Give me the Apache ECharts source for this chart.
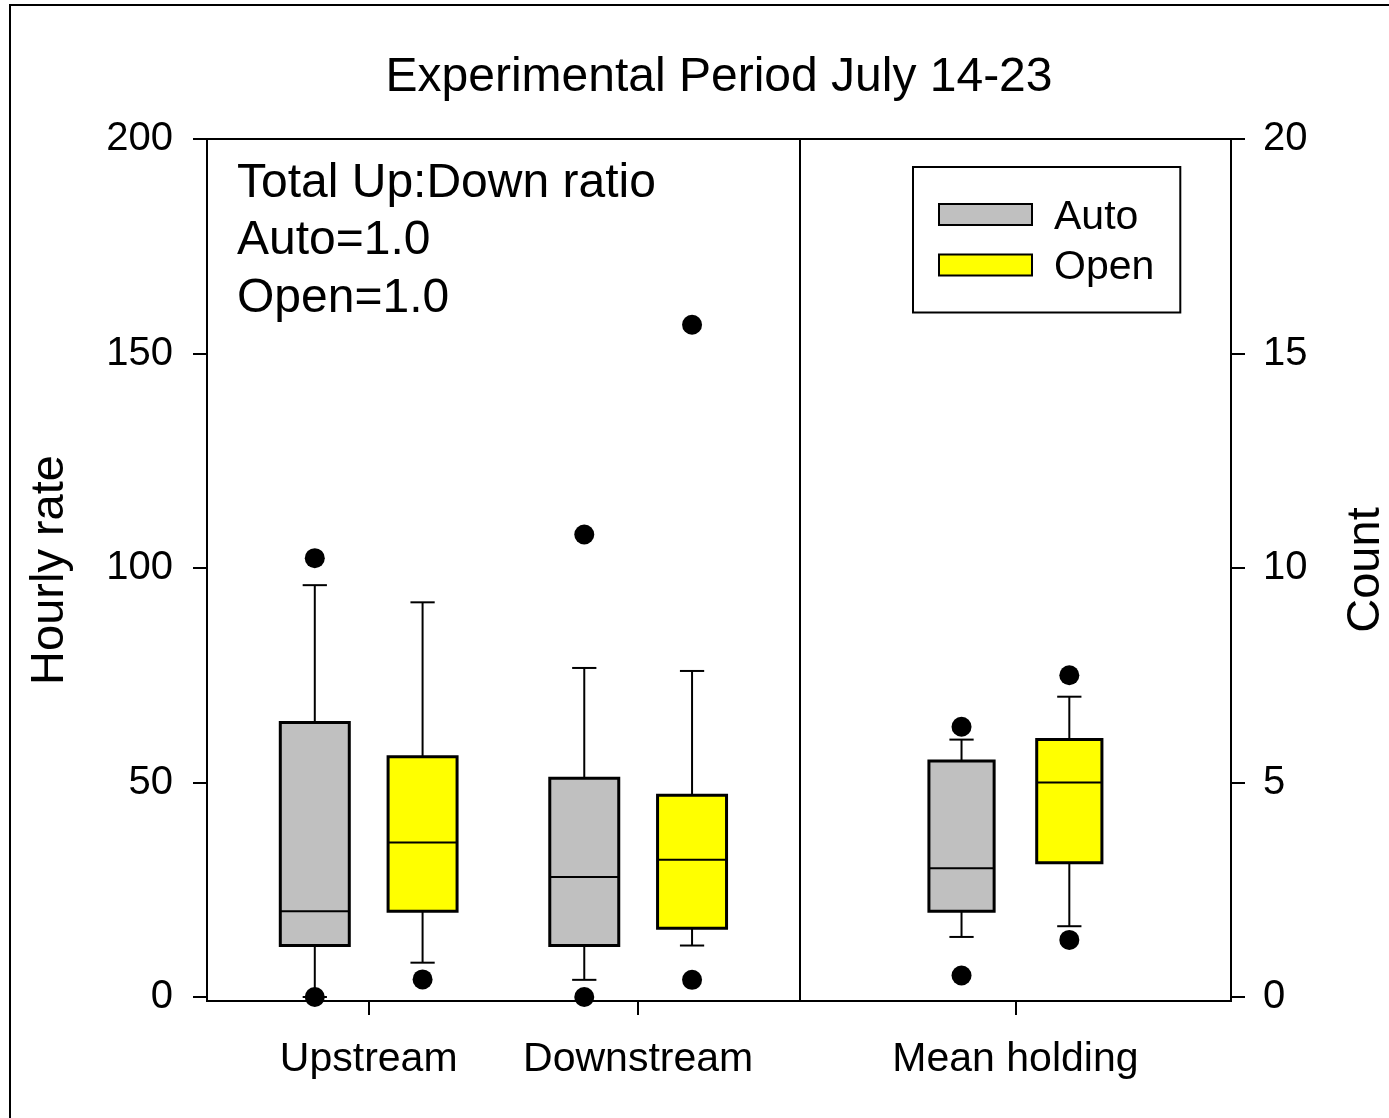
<!DOCTYPE html>
<html><head><meta charset="utf-8">
<script src="https://cdn.jsdelivr.net/npm/echarts@6/dist/echarts.min.js"></script>
<style>html,body{margin:0;padding:0;background:#fff;overflow:hidden}#c{width:1389px;height:1118px}</style>
</head><body><div id="c"></div>
<script>
// ---------- data ----------
const categories = ['Upstream', 'Downstream', 'Mean holding'];
const rateTicks = [0, 50, 100, 150, 200];
const countTicks = [0, 5, 10, 15, 20];
// box stats: [lower whisker, Q1, median, Q3, upper whisker]
const autoRate = [[0, 12, 20, 64, 96], [4, 12, 28, 51, 76.7]];
const openRate = [[8, 20, 36, 56, 92], [12, 16, 32, 47, 76]];
const autoCount = [[1.4, 2, 3, 5.5, 6]];
const openCount = [[1.65, 3.13, 5, 6, 7]];
// outliers: [category index, value]
const autoRateOut = [[0, 102.3], [0, 0], [1, 107.8], [1, 0]];
const openRateOut = [[0, 4.1], [1, 4.0], [1, 156.7]];
const autoCountOut = [[2, 6.3], [2, 0.5]];
const openCountOut = [[2, 7.5], [2, 1.33]];

// ---------- layout ----------
const GROUP_X = [1, 2, 3.4];
const OFFSET = 0.2;
const DIVIDER_X = 2.6;
const BOX_W_LEFT = 0.256, BOX_W_RIGHT = 0.242, CAP_W = 0.09;
const FONT = 'Liberation Sans, Arial, sans-serif';
const AUTO_COLOR = '#c0c0c0', OPEN_COLOR = '#ffff00';

function boxRenderer(boxW) {
  return function (params, api) {
    const x = api.value(0);
    const p = [1, 2, 3, 4, 5].map(i => api.coord([x, api.value(i)]));
    const cx = p[0][0];
    const hw = api.size([boxW, 0])[0] / 2;
    const ch = api.size([CAP_W, 0])[0] / 2;
    const ls = { stroke: '#000', lineWidth: 2 };
    const seg = (x1, y1, x2, y2) => ({ type: 'line', shape: { x1, y1, x2, y2 }, style: ls });
    return { type: 'group', children: [
      seg(cx, p[0][1], cx, p[1][1]),
      seg(cx, p[3][1], cx, p[4][1]),
      seg(cx - ch, p[0][1], cx + ch, p[0][1]),
      seg(cx - ch, p[4][1], cx + ch, p[4][1]),
      { type: 'rect', shape: { x: cx - hw, y: p[3][1], width: 2 * hw, height: p[1][1] - p[3][1] },
        style: { fill: api.visual('color'), stroke: '#000', lineWidth: 3 } },
      seg(cx - hw, p[2][1], cx + hw, p[2][1])
    ]};
  };
}
function boxSeries(name, stats, cats, offset, yIdx, boxW, color) {
  return {
    type: 'custom', name, xAxisIndex: 0, yAxisIndex: yIdx,
    itemStyle: { color },
    renderItem: boxRenderer(boxW),
    encode: { x: 0, y: [1, 2, 3, 4, 5] },
    data: stats.map((s, i) => [GROUP_X[cats[i]] + offset].concat(s)),
    z: 3
  };
}
function outSeries(name, pts, offset, yIdx) {
  return {
    type: 'scatter', name, yAxisIndex: yIdx, symbol: 'circle', symbolSize: 20,
    itemStyle: { color: '#000', opacity: 1 }, z: 5,
    data: pts.map(p => [GROUP_X[p[0]] + offset, p[1]])
  };
}
function yAxisCfg(name, ticks, min, max, pos, gap, margin) {
  return {
    type: 'value', position: pos, min, max,
    name, nameLocation: 'middle', nameGap: gap, nameRotate: 90,
    nameTextStyle: { fontSize: 47, color: '#000', fontFamily: FONT },
    axisLine: { show: true, onZero: false, lineStyle: { color: '#000', width: 2 } },
    axisTick: { show: true, length: 14, customValues: ticks, lineStyle: { color: '#000', width: 2 } },
    axisLabel: { show: true, customValues: ticks, margin, fontSize: 40, color: '#000', fontFamily: FONT },
    splitLine: { show: false }
  };
}

const chart = echarts.init(document.getElementById('c'));
const divider = outSeries('div', [], 0, 0);
divider.markLine = {
  silent: true, symbol: ['none', 'none'], label: { show: false },
  lineStyle: { color: '#000', width: 2, type: 'solid' },
  data: [{ xAxis: DIVIDER_X }]
};
chart.setOption({
  animation: false,
  backgroundColor: '#fff',
  textStyle: { fontFamily: FONT },
  graphic: [{
    type: 'rect', shape: { x: 10, y: 5, width: 1500, height: 1500 },
    style: { fill: 'none', stroke: '#000', lineWidth: 2 }, silent: true
  }],
  title: [
    { text: 'Experimental Period July 14-23', left: 719, top: 54, textAlign: 'center', padding: 0,
      textStyle: { fontSize: 48, fontWeight: 'normal', color: '#000', fontFamily: FONT } },
    { text: 'Total Up:Down ratio\nAuto=1.0\nOpen=1.0', left: 237, top: 155, padding: 0,
      textStyle: { fontSize: 48, fontWeight: 'normal', color: '#000', lineHeight: 57.5, fontFamily: FONT } }
  ],
  legend: {
    orient: 'vertical', left: 913, top: 167, padding: [24, 26, 24, 25],
    itemWidth: 93, itemHeight: 21, itemGap: 3.5,
    borderColor: '#000', borderWidth: 2, backgroundColor: '#fff',
    selectedMode: false,
    formatter: '{t|{name}}',
    textStyle: {
      fontSize: 41, color: '#000', fontFamily: FONT,
      rich: { t: { fontSize: 41, color: '#000', fontFamily: FONT, lineHeight: 35, padding: [6, 0, 0, 17] } }
    },
    data: [
      { name: 'Auto', icon: 'rect', itemStyle: { color: AUTO_COLOR, borderColor: '#000', borderWidth: 2 } },
      { name: 'Open', icon: 'rect', itemStyle: { color: OPEN_COLOR, borderColor: '#000', borderWidth: 2 } }
    ]
  },
  grid: { left: 207, right: 158, top: 139, bottom: 117, show: true, borderColor: '#000', borderWidth: 2,
    containLabel: false, outerBoundsMode: 'none' },
  xAxis: {
    type: 'value', min: 0.4, max: 4.2,
    axisLine: { show: true, onZero: false, lineStyle: { color: '#000', width: 2 } },
    axisTick: { show: true, length: 14, customValues: GROUP_X, lineStyle: { color: '#000', width: 2 } },
    axisLabel: {
      show: true, customValues: GROUP_X, margin: 38, fontSize: 41, color: '#000', fontFamily: FONT,
      formatter: v => { const i = GROUP_X.findIndex(g => Math.abs(g - v) < 1e-6); return i >= 0 ? categories[i] : ''; }
    },
    splitLine: { show: false }
  },
  yAxis: [
    yAxisCfg('Hourly rate', rateTicks, -0.932, 200, 'left', 133, 34),
    yAxisCfg('Count', countTicks, -0.0932, 20, 'right', 112, 32)
  ],
  series: [
    boxSeries('Auto', autoRate, [0, 1], -OFFSET, 0, BOX_W_LEFT, AUTO_COLOR),
    boxSeries('Open', openRate, [0, 1], OFFSET, 0, BOX_W_LEFT, OPEN_COLOR),
    boxSeries('Auto', autoCount, [2], -OFFSET, 1, BOX_W_RIGHT, AUTO_COLOR),
    boxSeries('Open', openCount, [2], OFFSET, 1, BOX_W_RIGHT, OPEN_COLOR),
    outSeries('Auto outliers', autoRateOut, -OFFSET, 0),
    outSeries('Open outliers', openRateOut, OFFSET, 0),
    outSeries('Auto count outliers', autoCountOut, -OFFSET, 1),
    outSeries('Open count outliers', openCountOut, OFFSET, 1),
    divider
  ]
});
</script></body></html>
